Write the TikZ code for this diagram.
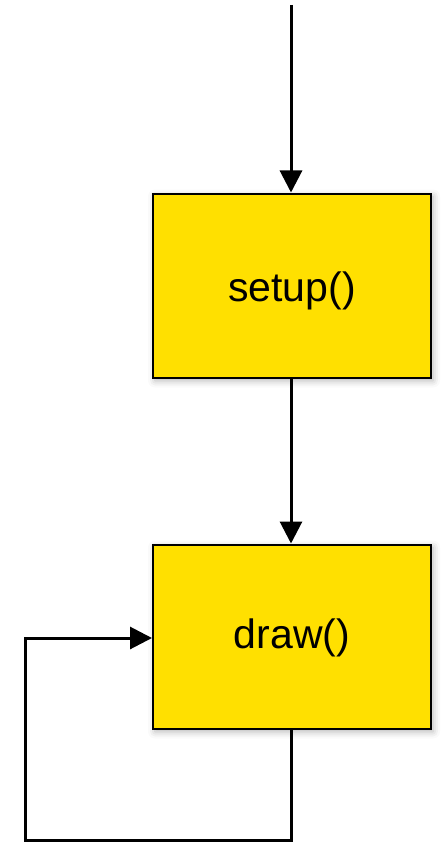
\documentclass[tikz,border=0pt]{standalone}
\usepackage{fontspec}
\setmainfont{Liberation Sans}
\usetikzlibrary{arrows.meta,shadows.blur}
\definecolor{boxyellow}{HTML}{FFE000}
\tikzset{
  fnbox/.style={draw=black, line width=2pt, fill=boxyellow, minimum width=278pt, minimum height=184pt, inner sep=0pt,
    blur shadow={shadow xshift=2pt, shadow yshift=-3pt, shadow blur radius=7pt, shadow opacity=30}},
  fntext/.style={font=\fontsize{41}{48}\selectfont, inner sep=0pt},
  flow/.style={line width=3pt, -{Triangle[length=22pt,width=22pt]}}
}
\begin{document}
\begin{tikzpicture}[x=1pt,y=1pt]
\useasboundingbox (0,0) rectangle (441,-845);
\node[fnbox, label={[fntext, yshift=-5pt]center:setup()}] (setup) at (292,-285.5) {};
\node[fnbox, label={[fntext, yshift=-1pt]center:draw()}] (draw) at (292,-636.5) {};
\coordinate (start) at (291,-5);
\coordinate (c1) at (291,-840);
\coordinate (c2) at (25,-840);
\coordinate (c3) at (25,-638);
\draw[flow] (start) -- (start |- setup.north);
\draw[flow] (setup.south -| start) -- (draw.north -| start);
\draw[flow, line join=miter] (draw.south -| start) -- (c1) -- (c2) -- (c3) -- (c3 -| draw.west);
\end{tikzpicture}
\end{document}
